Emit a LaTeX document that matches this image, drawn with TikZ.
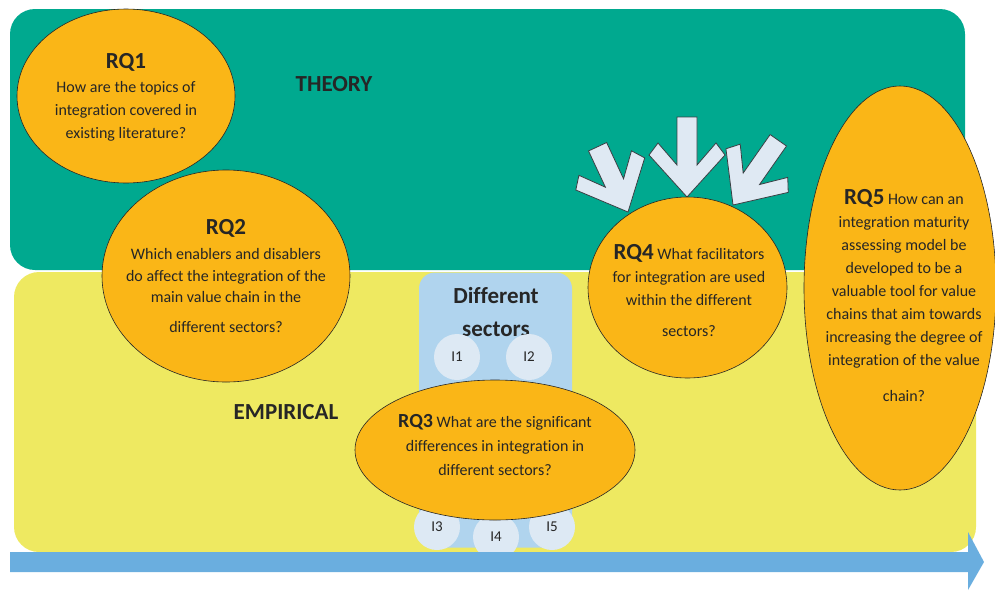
\documentclass[tikz,border=0pt]{standalone}
\usepackage{fontspec}
\setmainfont{Carlito}[Ligatures={NoCommon,NoRequired,NoContextual}]
\usetikzlibrary{shapes.geometric}

\definecolor{theorybg}{HTML}{00A98F}
\definecolor{empiricbg}{HTML}{EEE961}
\definecolor{sectorbg}{HTML}{B0D4EE}
\definecolor{itembg}{HTML}{DDE9F4}
\definecolor{rqfill}{HTML}{FAB617}
\definecolor{ink}{HTML}{262626}
\definecolor{flow}{HTML}{6AAEDF}
\definecolor{pointerfill}{HTML}{DFE9F3}
\definecolor{pointerline}{HTML}{3A3F44}

\newcommand{\rqtag}[1]{{\fontsize{23}{26}\selectfont\bfseries #1}}
\newcommand{\rqtagsmall}[1]{{\fontsize{20}{24}\selectfont\bfseries #1}}

\tikzset{
  panel/.style={rectangle, rounded corners=25pt, inner sep=0pt, draw=none},
  rq/.style={ellipse, draw=ink, line width=0.6pt, fill=rqfill, inner sep=0pt},
  rqtext/.style={text=ink, align=center, inner sep=0pt, font=\fontsize{16}{23}\selectfont},
  headline/.style={text=ink, inner sep=0pt, font=\fontsize{23}{28}\selectfont\bfseries},
  item/.style={circle, fill=itembg, minimum size=46pt, inner sep=0pt, text=ink,
    font=\fontsize{15}{17}\selectfont},
  pics/pointer/.style={code={
    \draw[fill=pointerfill, draw=pointerline, line width=0.8pt, line join=miter]
      (0,0) -- (38,-42) -- (29,-54) -- (10,-32) -- (10,-#1) -- (-10,-#1)
      -- (-10,-32) -- (-29,-54) -- (-38,-42) -- cycle;
  }}
}

\begin{document}
\begin{tikzpicture}[x=1pt, y=-1pt]
\useasboundingbox (0,0) rectangle (995,590);

% two research domains
\node[panel, fill=theorybg, minimum width=955pt, minimum height=261pt] (theory) at (487.5,139.5) {};
\node[panel, fill=empiricbg, minimum width=962pt, minimum height=280pt] (empiric) at (495,412) {};

\node[headline] (theorylabel) at (334,84) {THEORY};
\node[headline] (empiriclabel) at (286,412) {EMPIRICAL};

% sector comparison block with its interview circles
\node[panel, rounded corners=16pt, fill=sectorbg, minimum width=153pt, minimum height=275pt] (sectors) at (495.5,410) {};
\node[text=ink, align=center, inner sep=0pt, font=\fontsize{23}{33}\selectfont\bfseries] (sectorlabel) at (496,312) {Different\\sectors};

\node[item] (i1) at (457,357) {I1};
\node[item] (i2) at (529,357) {I2};
\node[item] (i3) at (437,527) {I3};
\node[item] (i4) at (496,537) {I4};
\node[item] (i5) at (552,527) {I5};

% facilitators pointing into RQ4
\pic[rotate=25] at (628,212) {pointer=72};
\pic at (687,197) {pointer=80};
\pic[rotate=-35] at (733,205) {pointer=79};

% research questions
\node[rq, minimum width=218pt, minimum height=174pt] (rq1) at (126,96) {};
\node[rqtext] (rq1tag) at (126,62) {\rqtag{RQ1}};
\node[rqtext] (rq1body) at (126,111.5) {How are the topics of\\integration covered in\\existing literature?};

\node[rq, minimum width=248pt, minimum height=212pt] (rq2) at (226,276) {};
\node[rqtext] (rq2tag) at (226,228) {\rqtag{RQ2}};
\node[rqtext, font=\fontsize{16}{21.5}\selectfont] (rq2body) at (226,290.5)
  {Which enablers and disablers\\do affect the integration of the\\main value chain in the\\[8pt]different sectors?};

\node[rq, minimum width=280pt, minimum height=140pt] (rq3) at (495,450) {};
\node[rqtext, font=\fontsize{16}{24}\selectfont] (rq3body) at (495,445)
  {\rqtagsmall{RQ3} What are the significant\\differences in integration in\\different sectors?};

\node[rq, minimum width=199pt, minimum height=181pt] (rq4) at (687.5,287.5) {};
\node[rqtext] (rq4body) at (689,291)
  {\rqtag{RQ4} What facilitators\\for integration are used\\within the different\\[8pt]sectors?};

\node[rq, minimum width=192pt, minimum height=404pt] (rq5) at (900,288) {};
\node[rqtext, font=\fontsize{16}{23}\selectfont] (rq5body) at (904,295.5)
  {\rqtag{RQ5} How can an\\integration maturity\\assessing model be\\developed to be a\\valuable tool for value\\chains that aim towards\\increasing the degree of\\integration of the value\\[13pt]chain?};

% time axis along the bottom
\fill[flow] (10,552) -- (968,552) -- (968,532) -- (984,562) -- (968,590) -- (968,572) -- (10,572) -- cycle;
\end{tikzpicture}
\end{document}
